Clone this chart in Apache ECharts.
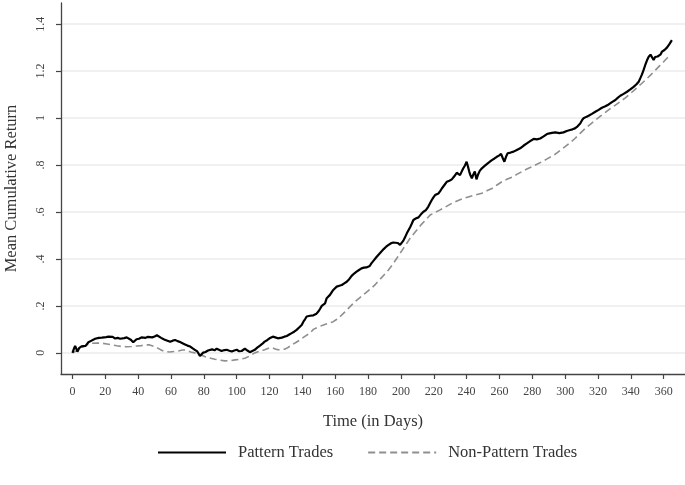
<!DOCTYPE html>
<html>
<head>
<meta charset="utf-8">
<script src="https://cdn.jsdelivr.net/npm/echarts@6/dist/echarts.min.js"></script>
<style>
html,body{margin:0;padding:0;background:#fff;}
#chart{width:685px;height:485px;}
</style>
</head>
<body>
<div id="chart"></div>
<script>
// ---- data ----
const xTicks = [0,20,40,60,80,100,120,140,160,180,200,220,240,260,280,300,320,340,360];
const yTicks = [0,0.2,0.4,0.6,0.8,1,1.2,1.4];
const seriesNames = ['Pattern Trades', 'Non-Pattern Trades'];

const patternDays = [0,1,1.6,2.3,3,4,4.6,5.5,6.7,8,9.7,11,12,13.8,15,16,17.9,19,20.5,21.9,23,24.5,26,27.5,29,30,31.5,33,34,35.5,37,38,39,40.5,42,43,44.5,46,47,48.5,50,51.4,52.5,54,55.5,57,58,59.5,61,62.5,64,65.5,66.6,68.5,70,71.7,73,74.5,76,77.6,78.5,79.6,81,82.5,83.7,85,86.5,87.8,89,90.8,92.5,93.9,95.5,97,98.5,100,101.5,103,104,105,106.5,108,109.5,111,112.5,114,115.5,117,118.5,120,121,122,123.5,125,126,127.5,129,130.5,132,133.5,135,136.5,138,139.6,140.6,141.6,142.6,143.5,144.6,145.7,146.7,147.6,148.6,149.7,150.8,151.8,152.8,153.8,154.8,155.8,156.8,157.8,158.8,159.8,160.9,162.5,164,165.5,167,168.5,170,171.5,173,174.5,176,177.5,179,180,181,182,183.5,185,186.5,188,189.5,191,192.5,194,195.3,196.5,198,199.5,200.5,201.5,202.5,203.6,204.6,205.6,206.6,207.6,209,210.7,212.2,213.7,215.2,216.7,217.8,218.8,219.8,220.8,222,222.9,224,224.9,226.5,228,229.5,231,232.5,234,235,236,237,238,239,240,240.8,241.6,242.4,243.2,244.1,245,246,247,248,249.3,250.8,252.3,253.8,255.4,257,258.4,259.7,261,262,263,264,265,266.8,268.6,270.6,272.6,274.6,276.7,278.7,280.8,282.8,284.8,286.9,288.9,290.5,292,294,296.5,299,301,303,304.5,306,307.6,309.2,310.2,311.2,312.8,314.3,316.3,318.4,320.4,322.4,324.5,326.5,328.5,330.6,332,333.6,335.6,337.7,339.7,341.7,343.3,344.8,345.8,346.8,347.8,348.8,349.8,350.9,352,352.9,353.9,354.8,355.6,356.3,357,358,359,360.5,362,363.5,365];
const patternValues = [0,0.02,0.03,0.018,0.005,0.02,0.012,0.028,0.034,0.03,0.045,0.05,0.047,0.06,0.058,0.064,0.065,0.062,0.067,0.069,0.065,0.068,0.061,0.064,0.06,0.066,0.063,0.066,0.06,0.056,0.045,0.052,0.058,0.06,0.066,0.072,0.064,0.068,0.062,0.066,0.07,0.075,0.068,0.064,0.058,0.054,0.05,0.047,0.052,0.055,0.05,0.046,0.041,0.036,0.031,0.027,0.02,0.013,0.006,-0.013,-0.005,0.001,0.004,0.01,0.01,0.015,0.011,0.018,0.013,0.008,0.012,0.013,0.009,0.006,0.01,0.013,0.007,0.008,0.014,0.018,0.01,0.003,0.008,0.013,0.022,0.03,0.038,0.048,0.054,0.062,0.066,0.069,0.066,0.062,0.06,0.065,0.069,0.072,0.078,0.084,0.09,0.098,0.108,0.119,0.133,0.143,0.155,0.15,0.158,0.162,0.16,0.157,0.167,0.176,0.188,0.2,0.205,0.211,0.233,0.238,0.247,0.258,0.268,0.272,0.282,0.286,0.289,0.296,0.303,0.314,0.328,0.338,0.346,0.353,0.36,0.363,0.364,0.358,0.37,0.381,0.394,0.407,0.419,0.431,0.442,0.452,0.46,0.467,0.47,0.474,0.468,0.46,0.468,0.478,0.492,0.509,0.522,0.535,0.55,0.566,0.572,0.577,0.59,0.601,0.608,0.623,0.638,0.651,0.662,0.672,0.675,0.679,0.69,0.7,0.715,0.729,0.733,0.739,0.752,0.767,0.76,0.757,0.772,0.786,0.798,0.814,0.795,0.772,0.755,0.743,0.76,0.772,0.739,0.76,0.775,0.786,0.795,0.804,0.812,0.821,0.828,0.835,0.84,0.847,0.83,0.814,0.835,0.85,0.853,0.857,0.864,0.871,0.882,0.892,0.902,0.911,0.909,0.913,0.922,0.932,0.935,0.937,0.939,0.936,0.939,0.945,0.949,0.952,0.956,0.965,0.977,0.99,0.999,1.005,1.01,1.018,1.027,1.035,1.044,1.05,1.058,1.068,1.077,1.086,1.095,1.103,1.112,1.122,1.133,1.143,1.155,1.17,1.186,1.205,1.226,1.245,1.261,1.27,1.275,1.247,1.26,1.268,1.262,1.254,1.27,1.283,1.29,1.3,1.315,1.332];

const nonPatternDays = [0,3,6,9,11.8,15,18,21,24,27,30,33,36,39,42,45,47,49.5,52,54,56,59,62.5,65,67,69,72,74.5,77.5,80.6,83.5,86.7,89.5,92.8,96,99,102,105,108,111,114,117,119,121,123,125,127,129.4,131.5,133.5,136,138.5,141.5,144.6,146.7,149.7,152.8,155.8,158.8,161,163,165,167,169.5,172,174.5,177,179.5,182,184.5,187,189.7,192.4,195,197.5,199.5,201.5,203.5,205.6,207.7,209.7,212.2,214.7,217.8,220.8,223.9,227.5,231,234.5,238,241.5,245,249.3,252.3,255.4,258.5,261.5,264.5,267.6,270.6,273.7,276.7,279.8,282.8,285.9,289,292,294,297,300,303,306,309,312.3,315.3,318.4,321.5,324.5,327.5,330.6,333.6,336.7,339.7,342.8,345.8,348.9,352,355,357.5,360,362,364];
const nonPatternValues = [0,0.01,0.025,0.035,0.041,0.042,0.041,0.038,0.034,0.03,0.027,0.026,0.027,0.029,0.031,0.034,0.034,0.028,0.02,0.012,0.006,0.004,0.006,0.009,0.012,0.012,0.004,0,-0.008,-0.016,-0.022,-0.027,-0.031,-0.034,-0.033,-0.03,-0.027,-0.023,-0.013,0,0.007,0.013,0.019,0.023,0.018,0.013,0.014,0.016,0.024,0.034,0.044,0.055,0.07,0.084,0.1,0.11,0.119,0.126,0.133,0.143,0.155,0.168,0.183,0.2,0.218,0.232,0.247,0.261,0.275,0.292,0.311,0.332,0.353,0.377,0.403,0.424,0.445,0.466,0.488,0.506,0.523,0.545,0.563,0.587,0.598,0.609,0.623,0.637,0.648,0.658,0.665,0.672,0.68,0.69,0.7,0.715,0.729,0.739,0.748,0.76,0.772,0.783,0.793,0.803,0.814,0.826,0.838,0.846,0.862,0.878,0.895,0.913,0.934,0.956,0.973,0.991,1.008,1.024,1.04,1.055,1.07,1.086,1.104,1.123,1.142,1.162,1.183,1.204,1.222,1.24,1.255,1.271];

// ---- chart ----
const FONT = 'Liberation Serif';
const pair = (xs, ys) => xs.map((x, i) => [x, ys[i]]);
const fmtY = v => {
  if (v === 0) return '0';
  if (v === 1) return '1';
  const s = String(+v.toFixed(1));
  return s.startsWith('0.') ? s.slice(1) : s;
};

const chart = echarts.init(document.getElementById('chart'), null, {renderer: 'canvas'});
chart.setOption({
  backgroundColor: '#ffffff',
  animation: false,
  textStyle: {fontFamily: FONT, color: '#333'},
  grid: {left: 61, right: 0, top: 3, bottom: 111, containLabel: false, outerBoundsMode: 'none'},
  xAxis: {
    type: 'value', min: -7, max: 373,
    name: 'Time (in Days)', nameLocation: 'middle', nameGap: 39,
    nameTextStyle: {fontFamily: FONT, fontSize: 16.5, color: '#333'},
    axisLine: {show: true, onZero: false, lineStyle: {color: '#444', width: 1.3}},
    axisTick: {show: true, length: 5, customValues: xTicks, lineStyle: {color: '#444', width: 1.2}},
    axisLabel: {customValues: xTicks, margin: 12, fontFamily: FONT, fontSize: 12, color: '#444'},
    splitLine: {show: false}
  },
  yAxis: {
    type: 'value', min: -0.09, max: 1.49,
    name: 'Mean Cumulative Return', nameLocation: 'middle', nameGap: 41,
    nameTextStyle: {fontFamily: FONT, fontSize: 16.5, color: '#333'},
    axisLine: {show: true, onZero: false, lineStyle: {color: '#444', width: 1.3}},
    axisTick: {show: true, length: 5, customValues: yTicks, lineStyle: {color: '#444', width: 1.2}},
    axisLabel: {customValues: yTicks, rotate: 90, margin: 14, fontFamily: FONT, fontSize: 12, color: '#444', formatter: fmtY},
    splitLine: {show: true, lineStyle: {color: '#ebebeb', width: 1.5}}
  },
  legend: {
    left: 157, top: 444, padding: 0,
    itemWidth: 68, itemHeight: 14, itemGap: 34,
    itemStyle: {opacity: 0},
    textStyle: {fontFamily: FONT, fontSize: 16.5, color: '#333', padding: [0,0,0,7]},
    data: seriesNames
  },
  series: [
    {
      name: seriesNames[1], type: 'line', data: pair(nonPatternDays, nonPatternValues),
      showSymbol: false, symbol: 'none', z: 2,
      lineStyle: {color: '#8f8f8f', width: 1.6, type: [7, 4]},
      itemStyle: {color: '#8f8f8f'}
    },
    {
      name: seriesNames[0], type: 'line', data: pair(patternDays, patternValues),
      showSymbol: false, symbol: 'none', z: 3,
      lineStyle: {color: '#000', width: 2.2},
      itemStyle: {color: '#000'}
    }
  ]
});
</script>
</body>
</html>
